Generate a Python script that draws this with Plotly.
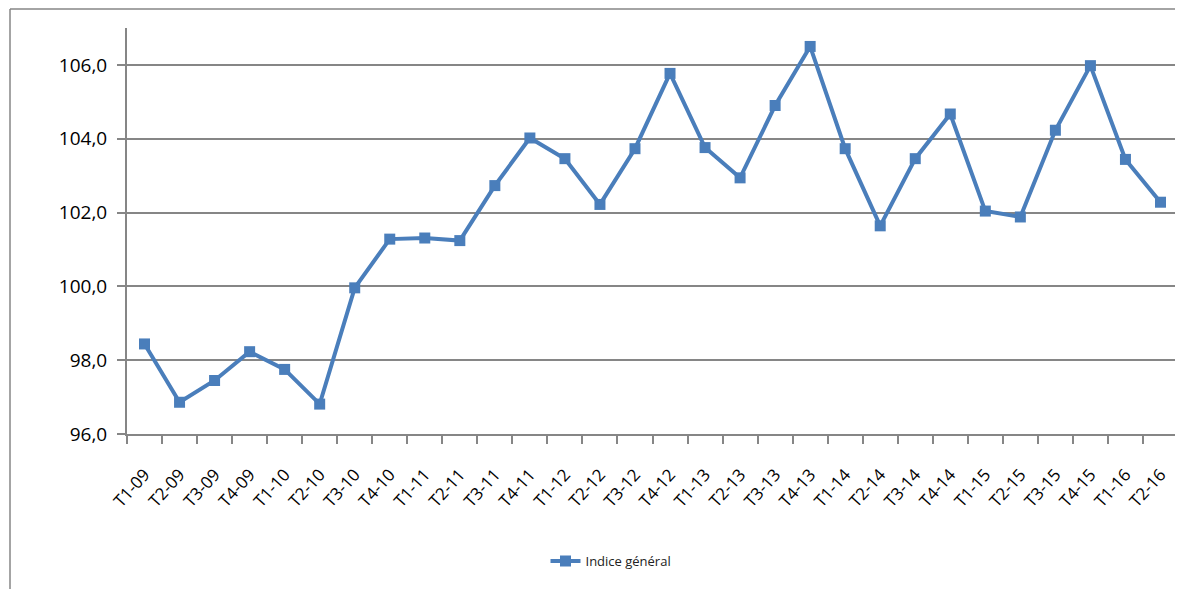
import plotly.graph_objects as go

categories = ["T1-09", "T2-09", "T3-09", "T4-09", "T1-10", "T2-10", "T3-10", "T4-10",
              "T1-11", "T2-11", "T3-11", "T4-11", "T1-12", "T2-12", "T3-12", "T4-12",
              "T1-13", "T2-13", "T3-13", "T4-13", "T1-14", "T2-14", "T3-14", "T4-14",
              "T1-15", "T2-15", "T3-15", "T4-15", "T1-16", "T2-16"]
indice_general = [98.44, 96.86, 97.45, 98.23, 97.75, 96.81, 99.96, 101.28,
                  101.31, 101.24, 102.73, 104.02, 103.46, 102.22, 103.73, 105.77,
                  103.76, 102.94, 104.90, 106.50, 103.73, 101.64, 103.46, 104.67,
                  102.04, 101.88, 104.23, 105.98, 103.44, 102.28]
y_ticks = [96, 98, 100, 102, 104, 106]

# page body has an 8px margin: work in figure coordinates = screen - 8
OFF = 8
W, H = 1183 - OFF, 589 - OFF
L, R, T, B = 127 - OFF, 5, 28 - OFF, 155
pw, ph = W - L - R, H - T - B


def px_x(x):
    return (x - OFF - L) / pw


def px_y(y):
    return (H - B - (y - OFF)) / ph


fig = go.Figure()
fig.add_trace(go.Scatter(
    x=categories, y=indice_general, mode="lines+markers",
    name="Indice général",
    line=dict(color="#4A7EBB", width=4),
    marker=dict(symbol="square", size=11, color="#4A7EBB"),
))

fig.update_layout(
    width=W, height=H,
    margin=dict(l=L, r=R, t=T, b=B, autoexpand=False),
    paper_bgcolor="white", plot_bgcolor="white",
    font=dict(family="Open Sans", color="#000000"),
    separators=", ",
    showlegend=True,
    legend=dict(x=px_x(611), y=px_y(561), xanchor="center", yanchor="middle",
                orientation="h", font=dict(size=13, color="#222222"),
                bgcolor="rgba(0,0,0,0)"),
    xaxis=dict(
        type="category", range=[-0.5, len(categories) - 0.5],
        tickangle=-48, tickfont=dict(size=17),
        ticks="outside", ticklen=8, tickcolor="#868686", tickwidth=2,
        tickson="boundaries", ticklabelstandoff=22,
        showline=True, linecolor="#868686", linewidth=2,
        showgrid=False, zeroline=False,
    ),
    yaxis=dict(
        range=[96, 107], tickvals=y_ticks, tickformat=".1f",
        tickfont=dict(size=19),
        ticks="outside", ticklen=8, tickcolor="#868686", tickwidth=2,
        ticklabelstandoff=6,
        showline=True, linecolor="#868686", linewidth=2,
        showgrid=True, gridcolor="#868686", gridwidth=1.5,
        zeroline=False,
    ),
    shapes=[
        dict(type="line", xref="paper", yref="paper",
             x0=px_x(10), x1=px_x(10), y0=px_y(9), y1=px_y(620),
             line=dict(color="#868686", width=1.5)),
        dict(type="line", xref="paper", yref="paper",
             x0=px_x(10), x1=px_x(1220), y0=px_y(9), y1=px_y(9),
             line=dict(color="#868686", width=1.5)),
    ],
)

fig.write_html("out.html")
